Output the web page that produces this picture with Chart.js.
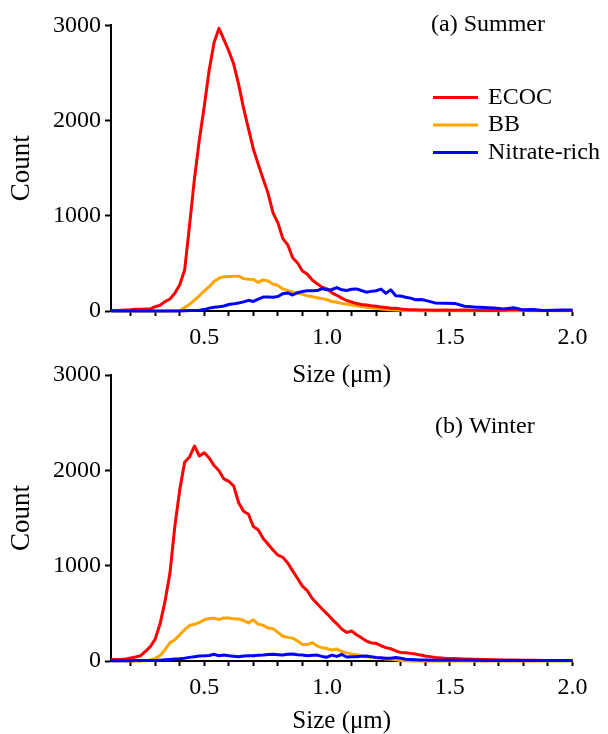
<!DOCTYPE html>
<html>
<head>
<meta charset="utf-8">
<script src="https://cdn.jsdelivr.net/npm/chart.js@4.4.1/dist/chart.umd.min.js"></script>
<style>
html,body{margin:0;padding:0;background:#fff;overflow:hidden;width:608px;height:734px;}
canvas{position:absolute;left:0;}
#ca{top:0;}
#cb{top:340px;}
</style>
</head>
<body>
<canvas id="ca" width="608" height="388"></canvas>
<canvas id="cb" width="608" height="394"></canvas>
<script>
// ---- data ----
const sizes = [0.12,0.14,0.16,0.18,0.20,0.22,0.24,0.26,0.28,0.30,
  0.32,0.34,0.36,0.38,0.40,0.42,0.44,0.46,0.48,0.50,
  0.52,0.54,0.56,0.58,0.60,0.62,0.64,0.66,0.68,0.70,
  0.72,0.74,0.76,0.78,0.80,0.82,0.84,0.86,0.88,0.90,
  0.92,0.94,0.96,0.98,1.00,1.02,1.04,1.06,1.08,1.10,
  1.12,1.14,1.16,1.18,1.20,1.22,1.24,1.26,1.28,1.30,
  1.32,1.34,1.36,1.38,1.40,
  1.44,1.48,1.52,1.56,1.60,1.64,1.68,1.72,1.76,1.80,1.84,1.88,1.92,1.96,2.00];

const summerECOC = [5,5,8,10,12,18,18,20,22,45,
  60,98,126,186,275,430,900,1390,1800,2150,
  2530,2820,2968,2850,2730,2590,2380,2130,1915,1700,
  1540,1385,1235,1030,925,760,695,560,505,420,
  385,325,285,250,232,190,165,135,110,95,
  78,68,63,55,50,42,36,30,28,20,
  17,14,12,10,10,
  8,10,8,10,8,6,5,8,15,8,5,5,5,5,5];
const summerBB = [0,0,0,0,0,0,0,0,0,0,
  0,0,0,2,5,35,70,115,160,210,
  255,310,345,360,362,365,366,340,333,332,
  300,326,315,283,268,232,215,200,185,175,
  160,150,140,130,118,100,92,80,72,62,
  54,48,40,34,28,22,17,14,10,8,
  6,5,4,3,3,
  2,2,2,2,2,2,2,2,2,2,2,2,2,2,2];
const summerNitrate = [0,0,0,0,0,0,0,0,0,0,
  0,0,0,0,0,2,4,6,8,15,
  30,40,45,52,68,75,85,96,112,100,
  124,146,148,145,152,182,190,168,192,205,
  212,213,214,236,222,226,246,222,215,228,
  232,215,198,206,213,230,186,222,160,158,
  145,135,118,120,112,
  85,82,80,50,42,38,32,20,35,12,16,6,8,10,10];

const winterECOC = [17,17,17,22,32,42,55,100,150,230,
  390,625,920,1410,1795,2085,2140,2255,2150,2185,
  2130,2050,1995,1910,1885,1835,1660,1570,1540,1410,
  1375,1285,1225,1165,1110,1088,1028,945,865,785,
  735,655,600,545,495,440,390,335,300,315,
  275,245,210,190,185,160,140,128,105,90,
  87,80,74,62,52,
  38,30,27,22,18,15,12,10,10,8,8,6,5,5,5];
const winterBB = [0,0,0,0,0,0,0,2,12,28,
  58,118,190,222,275,328,372,385,405,432,
  445,448,435,452,450,442,440,425,400,432,
  385,375,345,338,300,260,248,240,210,172,
  172,192,158,138,130,115,125,100,85,75,
  65,55,45,40,32,28,22,17,12,5,
  2,0,0,0,0,
  0,0,0,0,0,0,0,0,0,0,0,0,0,0,0];
const winterNitrate = [2,2,2,3,3,4,4,5,5,5,
  8,12,17,20,24,30,38,45,52,54,
  58,70,55,62,55,50,45,52,56,56,
  60,62,68,70,66,63,70,73,65,62,
  55,60,62,48,40,62,48,68,42,45,
  45,50,52,45,38,35,28,30,36,30,
  18,15,12,10,10,
  8,8,8,8,8,6,6,6,6,5,5,5,5,5,5];

const seriesNames = ['ECOC', 'BB', 'Nitrate-rich'];
const xTickValues = [0.2,0.3,0.4,0.5,0.6,0.7,0.8,0.9,1.0,1.1,1.2,1.3,1.4,1.5,1.6,1.7,1.8,1.9,2.0];
const xTickLabels = ['','','','0.5','','','','','1.0','','','','','1.5','','','','','2.0'];
const yTickValues = [0,1000,2000,3000];
const xTitle = 'Size (μm)';
const yTitle = 'Count';

// ---- styling ----
const FONT = '"Liberation Serif", "Times New Roman", serif';
const COLORS = ['#FF0000', '#FFA500', '#0000FF'];
const DRAW_ORDER = [1, 2, 0]; // nitrate on top, then ECOC, BB underneath

function pts(vals) { return sizes.map((s, i) => ({x: s, y: vals[i]})); }

const annotPlugin = {
  id: 'annot',
  afterDraw(chart, args, opts) {
    const ctx = chart.ctx;
    ctx.save();
    ctx.font = '24px ' + FONT;
    ctx.fillStyle = '#000';
    ctx.textBaseline = 'middle';
    ctx.textAlign = 'left';
    ctx.fillText(opts.label, opts.labelX, opts.labelY);
    if (opts.legend) {
      chart.data.datasets.forEach((ds, i) => {
        const y = opts.legendY + i * opts.legendGap;
        ctx.strokeStyle = ds.borderColor;
        ctx.lineWidth = 3;
        ctx.beginPath();
        ctx.moveTo(opts.legendX, y);
        ctx.lineTo(opts.legendX + 45, y);
        ctx.stroke();
        ctx.fillStyle = '#000';
        ctx.fillText(ds.label, opts.legendX + 55, y);
      });
    }
    ctx.restore();
  }
};

function makeChart(id, series, axisHeight, padTop, annot) {
  return new Chart(document.getElementById(id), {
    type: 'line',
    data: {
      datasets: series.map((vals, i) => ({
        label: seriesNames[i],
        data: pts(vals),
        borderColor: COLORS[i],
        backgroundColor: COLORS[i],
        borderWidth: 3,
        pointRadius: 0,
        tension: 0,
        fill: false,
        clip: false,
        order: DRAW_ORDER[i],
        borderJoinStyle: 'round'
      }))
    },
    options: {
      responsive: false,
      animation: false,
      devicePixelRatio: 1,
      layout: {padding: {top: padTop, left: 0, right: 35.5, bottom: 0}},
      plugins: {
        legend: {display: false},
        tooltip: {enabled: false},
        annot: annot
      },
      scales: {
        x: {
          type: 'linear',
          min: 0.12,
          max: 2.0,
          bounds: 'data',
          afterBuildTicks: (axis) => { axis.ticks = xTickValues.map(v => ({value: v})); },
          afterFit: (axis) => { axis.height = axisHeight; },
          ticks: {
            autoSkip: false,
            maxRotation: 0,
            padding: 7,
            color: '#000',
            font: {family: FONT, size: 24, lineHeight: 1.2},
            callback: (v, idx) => xTickLabels[idx]
          },
          grid: {display: true, drawOnChartArea: false, drawTicks: true, tickLength: 5, tickWidth: 2, tickColor: '#000', color: '#000'},
          border: {display: true, color: '#000', width: 2},
          title: {display: true, text: xTitle, color: '#000', font: {family: FONT, size: 25, lineHeight: 1}, padding: {top: 0, bottom: 0}}
        },
        y: {
          type: 'linear',
          min: 0,
          max: 3000,
          bounds: 'data',
          afterBuildTicks: (axis) => { axis.ticks = yTickValues.map(v => ({value: v})); },
          afterFit: (axis) => { axis.width = 111; },
          ticks: {
            padding: 4,
            color: '#000',
            font: {family: FONT, size: 24, lineHeight: 1.2},
            callback: (v) => String(v)
          },
          grid: {display: true, drawOnChartArea: false, drawTicks: true, tickLength: 6, tickWidth: 2, tickColor: '#000', color: '#000'},
          border: {display: true, color: '#000', width: 2},
          title: {display: true, text: yTitle, color: '#000', font: {family: FONT, size: 27, lineHeight: 1}, padding: {top: 8.5, bottom: 0}}
        }
      }
    },
    plugins: [annotPlugin]
  });
}

makeChart('ca', [summerECOC, summerBB, summerNitrate], 77, 25.3,
  {label: '(a) Summer', labelX: 431, labelY: 25, legend: true, legendX: 433, legendY: 97.5, legendGap: 27.5});
makeChart('cb', [winterECOC, winterBB, winterNitrate], 73, 35,
  {label: '(b) Winter', labelX: 435, labelY: 87, legend: false});
</script>
</body>
</html>
